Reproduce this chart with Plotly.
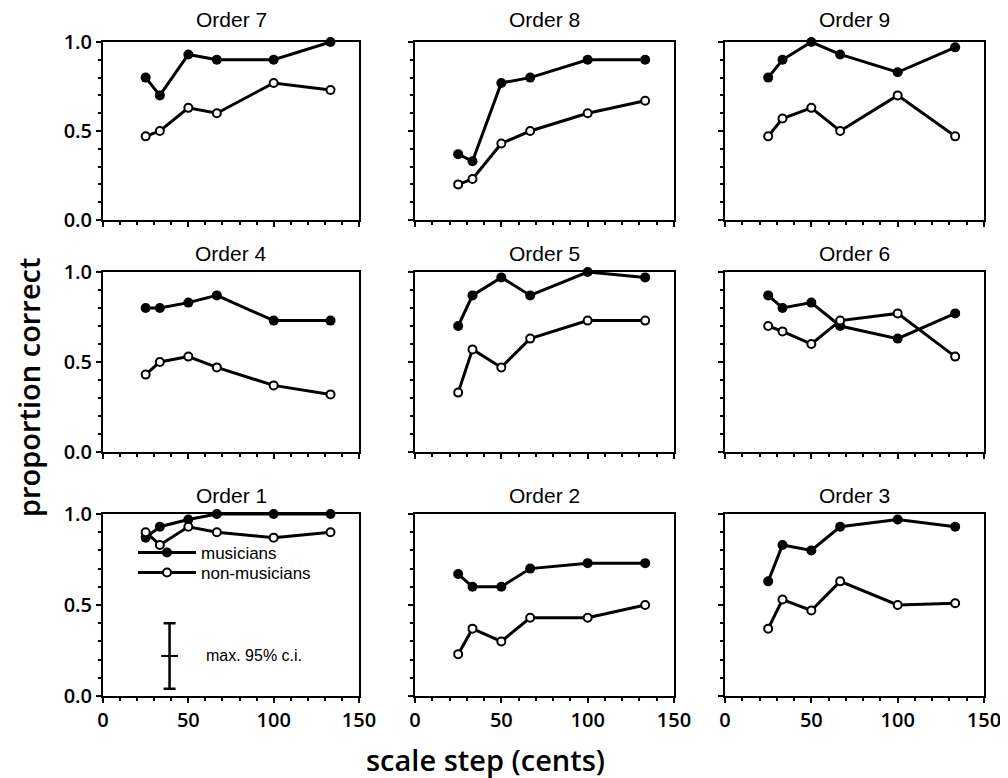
import plotly.graph_objects as go

# ---- data ----
scale_steps = [25, 33.3, 50, 66.7, 100, 133.3]

musicians_order1 = [0.87, 0.93, 0.97, 1.00, 1.00, 1.00]
nonmusicians_order1 = [0.90, 0.83, 0.93, 0.90, 0.87, 0.90]
musicians_order2 = [0.67, 0.60, 0.60, 0.70, 0.73, 0.73]
nonmusicians_order2 = [0.23, 0.37, 0.30, 0.43, 0.43, 0.50]
musicians_order3 = [0.63, 0.83, 0.80, 0.93, 0.97, 0.93]
nonmusicians_order3 = [0.37, 0.53, 0.47, 0.63, 0.50, 0.51]
musicians_order4 = [0.80, 0.80, 0.83, 0.87, 0.73, 0.73]
nonmusicians_order4 = [0.43, 0.50, 0.53, 0.47, 0.37, 0.32]
musicians_order5 = [0.70, 0.87, 0.97, 0.87, 1.00, 0.97]
nonmusicians_order5 = [0.33, 0.57, 0.47, 0.63, 0.73, 0.73]
musicians_order6 = [0.87, 0.80, 0.83, 0.70, 0.63, 0.77]
nonmusicians_order6 = [0.70, 0.67, 0.60, 0.73, 0.77, 0.53]
musicians_order7 = [0.80, 0.70, 0.93, 0.90, 0.90, 1.00]
nonmusicians_order7 = [0.47, 0.50, 0.63, 0.60, 0.77, 0.73]
musicians_order8 = [0.37, 0.33, 0.77, 0.80, 0.90, 0.90]
nonmusicians_order8 = [0.20, 0.23, 0.43, 0.50, 0.60, 0.67]
musicians_order9 = [0.80, 0.90, 1.00, 0.93, 0.83, 0.97]
nonmusicians_order9 = [0.47, 0.57, 0.63, 0.50, 0.70, 0.47]

panel_titles = ["Order 7", "Order 8", "Order 9",
                "Order 4", "Order 5", "Order 6",
                "Order 1", "Order 2", "Order 3"]
panel_musicians = [musicians_order7, musicians_order8, musicians_order9,
                   musicians_order4, musicians_order5, musicians_order6,
                   musicians_order1, musicians_order2, musicians_order3]
panel_nonmusicians = [nonmusicians_order7, nonmusicians_order8, nonmusicians_order9,
                      nonmusicians_order4, nonmusicians_order5, nonmusicians_order6,
                      nonmusicians_order1, nonmusicians_order2, nonmusicians_order3]

# confidence-interval key (shown in Order 1 panel)
ci_step = [39]
ci_center = [0.22]
ci_half = [0.18]

x_ticks = [0, 50, 100, 150]
y_ticks = [0.0, 0.5, 1.0]

# ---- layout geometry (screen pixels; page has an 8px body margin) ----
SCREEN_W, SCREEN_H = 1008, 778
OFF = 8
W, H = SCREEN_W - OFF, SCREEN_H - OFF


def px_x(sx):
    return (sx - OFF) / W


def px_y(sy):
    return (SCREEN_H - sy) / H


col_px = [(103, 359), (415, 674), (725, 984)]
row_px = [(42, 220), (272, 452), (514, 696)]
title_shift = [9, 5, 5]

FONT_TICK = "Open Sans"
FONT_TITLE = "Liberation Sans"

fig = go.Figure()
layout = dict(
    template="none",
    width=W, height=H,
    margin=dict(l=0, r=0, t=0, b=0, autoexpand=False),
    paper_bgcolor="white", plot_bgcolor="white",
    showlegend=True,
    annotations=[],
)

for i in range(9):
    r, c = divmod(i, 3)
    n = i + 1
    xa = "x" if n == 1 else f"x{n}"
    ya = "y" if n == 1 else f"y{n}"
    xkey = "xaxis" if n == 1 else f"xaxis{n}"
    ykey = "yaxis" if n == 1 else f"yaxis{n}"
    x0, x1 = col_px[c]
    y0, y1 = row_px[r]
    first_legend = (panel_titles[i] == "Order 1")

    fig.add_trace(go.Scatter(
        x=scale_steps, y=panel_musicians[i], xaxis=xa, yaxis=ya,
        mode="lines+markers", name="musicians",
        line=dict(color="black", width=3),
        marker=dict(symbol="circle", size=10, color="black"),
        cliponaxis=False, showlegend=first_legend, legend="legend",
    ))
    fig.add_trace(go.Scatter(
        x=scale_steps, y=panel_nonmusicians[i], xaxis=xa, yaxis=ya,
        mode="lines+markers", name="non-musicians",
        line=dict(color="black", width=3),
        marker=dict(symbol="circle", size=8, color="white",
                    line=dict(color="black", width=2)),
        cliponaxis=False, showlegend=first_legend, legend="legend2",
    ))

    layout[xkey] = dict(
        domain=[px_x(x0), px_x(x1)], anchor=ya, range=[0, 150], automargin=False,
        tickvals=x_ticks, ticktext=[str(v) for v in x_ticks],
        showticklabels=(r == 2), ticks="outside", ticklen=5, tickwidth=2, tickcolor="black",
        minor=dict(dtick=10, ticks="outside", ticklen=3, tickwidth=1.5, tickcolor="black"),
        showline=True, linecolor="black", linewidth=2, mirror=True,
        showgrid=False, zeroline=False,
        tickfont=dict(family=FONT_TICK, size=20, color="black", weight=600),
    )
    layout[ykey] = dict(
        domain=[px_y(y1), px_y(y0)], anchor=xa, range=[0, 1.0], automargin=False,
        tickvals=y_ticks, ticktext=["%.1f" % v for v in y_ticks],
        showticklabels=(c == 0), ticks="outside", ticklen=5, tickwidth=2, tickcolor="black",
        minor=dict(dtick=0.1, ticks="outside", ticklen=3, tickwidth=1.5, tickcolor="black"),
        showline=True, linecolor="black", linewidth=2, mirror=True,
        showgrid=False, zeroline=False,
        tickfont=dict(family=FONT_TICK, size=20, color="black", weight=600),
    )
    layout["annotations"].append(dict(
        text=panel_titles[i], xref="paper", yref="paper",
        x=px_x((x0 + x1) / 2), y=px_y(y0), xanchor="center", yanchor="bottom",
        yshift=title_shift[r], showarrow=False,
        font=dict(family=FONT_TITLE, size=21, color="black"),
    ))

    if first_legend:
        fig.add_trace(go.Scatter(
            x=ci_step, y=ci_center, xaxis=xa, yaxis=ya, mode="markers",
            marker=dict(symbol="line-ew", size=12, line=dict(color="black", width=2)),
            error_y=dict(type="data", array=ci_half, color="black", thickness=2.5, width=6),
            showlegend=False, cliponaxis=False,
        ))
        layout["annotations"].append(dict(
            text="max. 95% c.i.", xref=xa, yref=ya, x=59, y=ci_center[0],
            xanchor="left", yanchor="middle", showarrow=False,
            font=dict(family=FONT_TITLE, size=16, color="black"),
        ))

legend_style = dict(
    xanchor="left", yanchor="middle",
    bgcolor="rgba(0,0,0,0)", borderwidth=0, tracegroupgap=0,
    itemwidth=58,
    font=dict(family=FONT_TITLE, size=17, color="black"),
)
layout["legend"] = dict(x=px_x(133), y=px_y(553), **legend_style)
layout["legend2"] = dict(x=px_x(133), y=px_y(573), **legend_style)

layout["annotations"].append(dict(
    text="proportion correct", xref="paper", yref="paper",
    x=px_x(28), y=px_y(388), textangle=-90, xanchor="center", yanchor="middle",
    showarrow=False, font=dict(family=FONT_TICK, size=29, color="black", weight=600),
))
layout["annotations"].append(dict(
    text="scale step (cents)", xref="paper", yref="paper",
    x=px_x(485), y=px_y(759), xanchor="center", yanchor="middle",
    showarrow=False, font=dict(family=FONT_TICK, size=29, color="black", weight=600),
))

fig.update_layout(**layout)
fig.write_html("out.html")
